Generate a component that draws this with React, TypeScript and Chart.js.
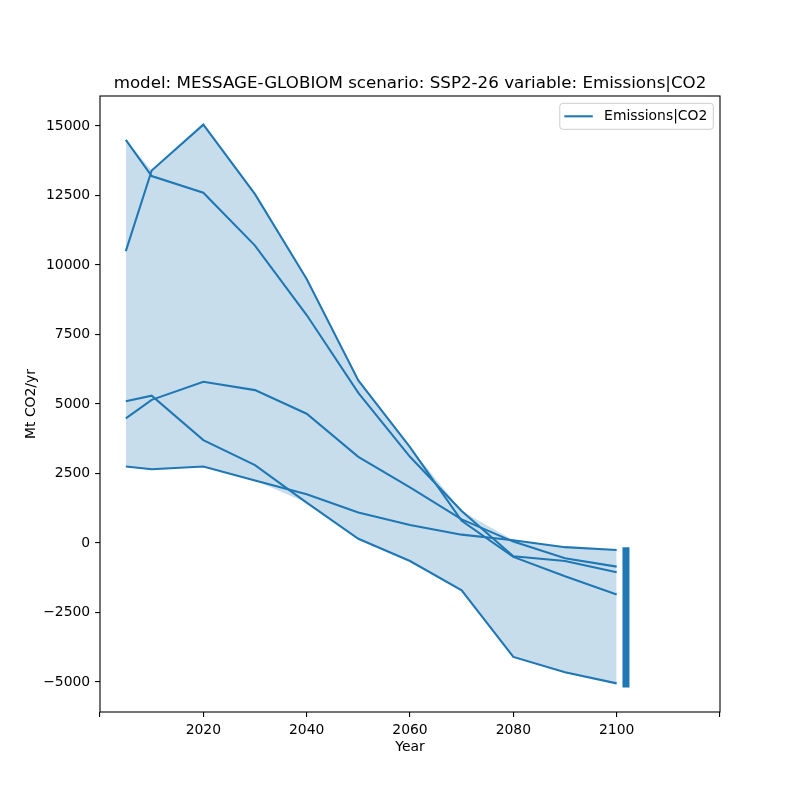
import React, { useEffect, useRef } from 'react';
import { Chart, registerables } from 'chart.js';

Chart.register(...registerables);

// ---- data ----
const years = [2005, 2010, 2020, 2030, 2040, 2050, 2060, 2070, 2080, 2090, 2100];
const seriesA = [14500, 13200, 12600, 10700, 8200, 5400, 3100, 1150, -480, -650, -1050];
const seriesB = [10500, 13400, 15050, 12550, 9500, 5850, 3450, 800, -500, -1200, -1850];
const seriesC = [5100, 5300, 3700, 2800, 1450, 150, -650, -1700, -4100, -4650, -5050];
const seriesD = [4480, 5150, 5800, 5500, 4650, 3100, 2000, 850, 50, -550, -850];
const seriesE = [2750, 2650, 2750, 2250, 1750, 1100, 650, 300, 100, -150, -250];
const allSeries = [seriesA, seriesB, seriesC, seriesD, seriesE];

const rangeBarYears = [2101.8, 2101.8];
const rangeBarValues = [-5200, -150];

const xTickValues = [2000, 2020, 2040, 2060, 2080, 2100, 2120];
const xTickLabels = ['', '2020', '2040', '2060', '2080', '2100', ''];
const yTickValues = [-5000, -2500, 0, 2500, 5000, 7500, 10000, 12500, 15000];

const titleText = 'model: MESSAGE-GLOBIOM scenario: SSP2-26 variable: Emissions|CO2';
const xLabel = 'Year';
const yLabel = 'Mt CO2/yr';
const legendLabel = 'Emissions|CO2';

const COLOR = '#1f77b4';
const FILL = 'rgba(31,119,180,0.25)';
const FONT = "'DejaVu Sans', sans-serif";

export default function App() {
  const ref = useRef<HTMLCanvasElement>(null);

  useEffect(() => {
    document.body.style.margin = '0';
    const canvas = ref.current;
    if (!canvas) return;

    const lower = years.map((_, i) => Math.min(...allSeries.map((s) => s[i])));
    const upper = years.map((_, i) => Math.max(...allSeries.map((s) => s[i])));
    const toPts = (vals: number[]) => years.map((x, i) => ({ x, y: vals[i] }));

    const datasets: any[] = [
      ...allSeries.map((s) => ({
        data: toPts(s),
        borderColor: COLOR,
        borderWidth: 2.08,
        pointRadius: 0,
        fill: false,
        tension: 0,
      })),
      {
        data: rangeBarYears.map((x, i) => ({ x, y: rangeBarValues[i] })),
        borderColor: COLOR,
        borderWidth: 7,
        borderCapStyle: 'butt',
        pointRadius: 0,
        fill: false,
      },
      {
        data: toPts(upper),
        borderColor: 'rgba(0,0,0,0)',
        borderWidth: 0,
        pointRadius: 0,
        fill: false,
      },
      {
        data: toPts(lower),
        borderColor: 'rgba(0,0,0,0)',
        borderWidth: 0,
        pointRadius: 0,
        fill: '-1',
        backgroundColor: FILL,
      },
    ];

    const decor = {
      id: 'decor',
      afterDraw(chart: any) {
        const { ctx, chartArea: a } = chart;
        ctx.save();
        ctx.strokeStyle = '#000';
        ctx.lineWidth = 1.1;
        ctx.strokeRect(a.left, a.top, a.right - a.left, a.bottom - a.top);

        ctx.fillStyle = '#000';
        ctx.textAlign = 'center';
        ctx.textBaseline = 'alphabetic';
        ctx.font = `16.7px ${FONT}`;
        ctx.fillText(titleText, (a.left + a.right) / 2, a.top - 8.3);

        ctx.font = `13.9px ${FONT}`;
        ctx.fillText(xLabel, (a.left + a.right) / 2, 751);

        ctx.save();
        ctx.translate(31, (a.top + a.bottom) / 2);
        ctx.rotate(-Math.PI / 2);
        ctx.textBaseline = 'middle';
        ctx.fillText(yLabel, 0, 0);
        ctx.restore();

        // legend
        const w = ctx.measureText(legendLabel).width;
        const right = a.right - 6.7;
        const top = a.top + 7.3;
        const h = 26;
        const left = right - 6 - w - 44.3;
        const r = 3;
        ctx.beginPath();
        ctx.moveTo(left + r, top);
        ctx.lineTo(right - r, top);
        ctx.arcTo(right, top, right, top + r, r);
        ctx.lineTo(right, top + h - r);
        ctx.arcTo(right, top + h, right - r, top + h, r);
        ctx.lineTo(left + r, top + h);
        ctx.arcTo(left, top + h, left, top + h - r, r);
        ctx.lineTo(left, top + r);
        ctx.arcTo(left, top, left + r, top, r);
        ctx.closePath();
        ctx.fillStyle = 'rgba(255,255,255,0.8)';
        ctx.fill();
        ctx.strokeStyle = '#cccccc';
        ctx.lineWidth = 1;
        ctx.stroke();

        const cy = top + h / 2;
        ctx.strokeStyle = COLOR;
        ctx.lineWidth = 2.08;
        ctx.beginPath();
        ctx.moveTo(left + 4.5, cy);
        ctx.lineTo(left + 33, cy);
        ctx.stroke();

        ctx.fillStyle = '#000';
        ctx.textAlign = 'left';
        ctx.textBaseline = 'middle';
        ctx.fillText(legendLabel, left + 44.3, cy);
        ctx.restore();
      },
    };

    const tickFont = { family: FONT, size: 13.9 };

    const chart = new Chart(canvas, {
      type: 'line',
      data: { datasets },
      plugins: [decor],
      options: {
        animation: false,
        responsive: false,
        layout: { padding: { top: 96, right: 80, left: 0, bottom: 0 } },
        plugins: {
          legend: { display: false },
          tooltip: { enabled: false },
          title: { display: false },
        },
        scales: {
          x: {
            type: 'linear',
            min: 2000,
            max: 2120,
            afterBuildTicks: (scale: any) => {
              scale.ticks = xTickValues.map((v) => ({ value: v }));
            },
            afterFit: (scale: any) => {
              scale.height = 88;
            },
            grid: {
              drawOnChartArea: false,
              drawTicks: true,
              tickLength: 4.9,
              color: '#000',
              lineWidth: 1.1,
            },
            border: { display: false },
            ticks: {
              autoSkip: false,
              maxRotation: 0,
              padding: 4.9,
              color: '#000',
              font: tickFont,
              callback: (value: any) => {
                const idx = xTickValues.indexOf(Number(value));
                return idx >= 0 ? xTickLabels[idx] : '';
              },
            },
          },
          y: {
            type: 'linear',
            min: -6080,
            max: 16080,
            afterBuildTicks: (scale: any) => {
              scale.ticks = yTickValues.map((v) => ({ value: v }));
            },
            afterFit: (scale: any) => {
              scale.width = 100;
            },
            grid: {
              drawOnChartArea: false,
              drawTicks: true,
              tickLength: 4.9,
              color: '#000',
              lineWidth: 1.1,
            },
            border: { display: false },
            ticks: {
              autoSkip: false,
              padding: 4.9,
              color: '#000',
              font: tickFont,
              callback: (value: any) => String(value).replace('-', '\u2212'),
            },
          },
        },
      } as any,
    });

    return () => chart.destroy();
  }, []);

  return (
    <div style={{ position: 'absolute', left: 0, top: 0, width: 800, height: 800, background: '#fff' }}>
      <canvas ref={ref} width={800} height={800} style={{ width: 800, height: 800, display: 'block' }} />
    </div>
  );
}
